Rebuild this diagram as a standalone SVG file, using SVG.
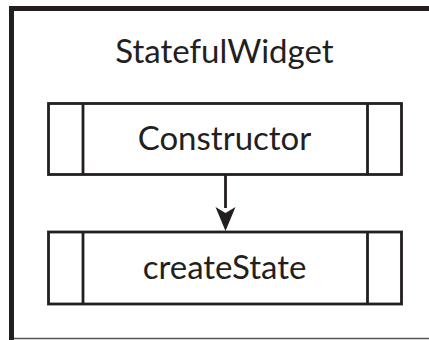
<svg xmlns="http://www.w3.org/2000/svg" width="429" height="340" viewBox="0 0 429 340">
<defs>
<style>
.frame{fill:none;stroke:#231f20;stroke-width:5}
.box{fill:#fff;stroke:#231f20;stroke-width:2.8}
.div{stroke:#231f20;stroke-width:2.8}
.t{font-family:Lato,"Open Sans",sans-serif;font-size:33px;fill:#231f20;text-anchor:middle}
.conn{stroke:#231f20;stroke-width:2.8;fill:none}
</style>
</defs>
<rect width="429" height="340" fill="#fff"/>
<g id="frame">
<path class="frame" d="M11.5,340 L11.5,8.5 L429,8.5"/>
<line x1="14" y1="338.5" x2="429" y2="338.5" stroke="#555" stroke-width="1.5"/>
<text class="t" x="224.5" y="62.5">StatefulWidget</text>
</g>
<g id="connectors">
<line class="conn" x1="225.5" y1="175" x2="225.5" y2="208"/>
<path d="M215.5,207 L225.5,213 L235.5,207 L225.5,231 Z" fill="#231f20"/>
</g>
<g id="constructor">
<rect class="box" x="48.5" y="103.5" width="353" height="71"/>
<line class="div" x1="83" y1="103.5" x2="83" y2="174.5"/>
<line class="div" x1="367.5" y1="103.5" x2="367.5" y2="174.5"/>
<text class="t" x="224.5" y="149.5">Constructor</text>
</g>
<g id="createState">
<rect class="box" x="48.5" y="232" width="353" height="72"/>
<line class="div" x1="83" y1="232" x2="83" y2="304"/>
<line class="div" x1="367.5" y1="232" x2="367.5" y2="304"/>
<text class="t" x="224.5" y="278.5">createState</text>
</g>
</svg>
